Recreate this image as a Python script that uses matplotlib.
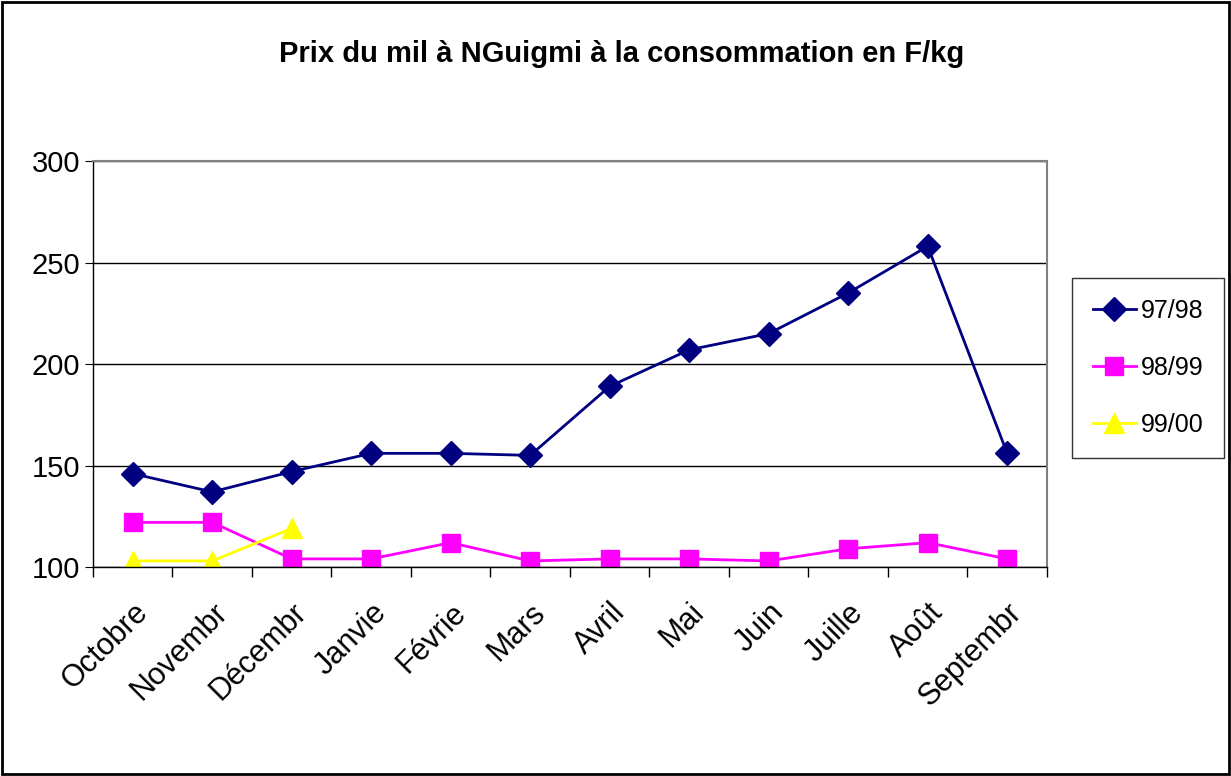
import matplotlib
matplotlib.use('Agg')
import matplotlib.pyplot as plt
from matplotlib.patches import Rectangle

plt.rcParams['font.family'] = ['Liberation Sans', 'DejaVu Sans']

# data
months = ['Octobre', 'Novembr', 'Décembr', 'Janvie', 'Févrie', 'Mars',
          'Avril', 'Mai', 'Juin', 'Juille', 'Août', 'Septembr']
prix_9798 = [146, 137, 147, 156, 156, 155, 189, 207, 215, 235, 258, 156]
prix_9899 = [122, 122, 104, 104, 112, 103, 104, 104, 103, 109, 112, 104]
prix_9900 = [103, 103, 119]
series_names = ['97/98', '98/99', '99/00']

fig = plt.figure(figsize=(12.31, 7.76), dpi=100)
ax = fig.add_axes([0.0755, 0.2693, 0.775, 0.5232])

x = list(range(len(months)))
ax.plot(x, prix_9798, color='#000080', lw=2, marker='D', ms=12, label=series_names[0])
ax.plot(x, prix_9899, color='#FF00FF', lw=2, marker='s', ms=13, label=series_names[1])
ax.plot(x[:len(prix_9900)], prix_9900, color='#FFFF00', lw=2, marker='^', ms=14,
        label=series_names[2])

ax.set_xlim(-0.5, len(months) - 0.5)
ax.set_ylim(100, 300)
ax.set_yticks([100, 150, 200, 250, 300])
ax.yaxis.grid(True, color='black', lw=1)
ax.set_axisbelow(True)

# ticks between categories, labels at the centres
ax.set_xticks([i - 0.5 for i in range(len(months) + 1)])
ax.set_xticklabels([])
ax.set_xticks(x, minor=True)
ax.set_xticklabels(months, minor=True, rotation=45, ha='right', va='top',
                   rotation_mode='anchor', fontsize=22)
ax.tick_params(axis='x', which='minor', length=0, pad=22)
ax.tick_params(axis='x', which='major', length=7, direction='out', width=1)
ax.tick_params(axis='y', length=6, direction='out', labelsize=21, pad=3)

for side in ['top', 'right']:
    ax.spines[side].set_color('#808080')
    ax.spines[side].set_linewidth(1.5)
for side in ['left', 'bottom']:
    ax.spines[side].set_color('black')
    ax.spines[side].set_linewidth(1)

fig.text(0.505, 0.93, 'Prix du mil à NGuigmi à la consommation en F/kg',
         ha='center', va='center', fontsize=21, fontweight='bold')

leg = ax.legend(loc='upper left', bbox_to_anchor=(0.871, 0.642),
                bbox_transform=fig.transFigure, fontsize=18, frameon=True,
                fancybox=False, edgecolor='black', handlelength=1.7,
                labelspacing=1.32, borderpad=0.84, handletextpad=0.2,
                borderaxespad=0)
leg.get_frame().set_linewidth(1)

fig.patches.append(Rectangle((0.002, 0.003), 0.996, 0.994, transform=fig.transFigure,
                             fill=False, edgecolor='black', lw=2))

fig.savefig('out.png', dpi=100)
